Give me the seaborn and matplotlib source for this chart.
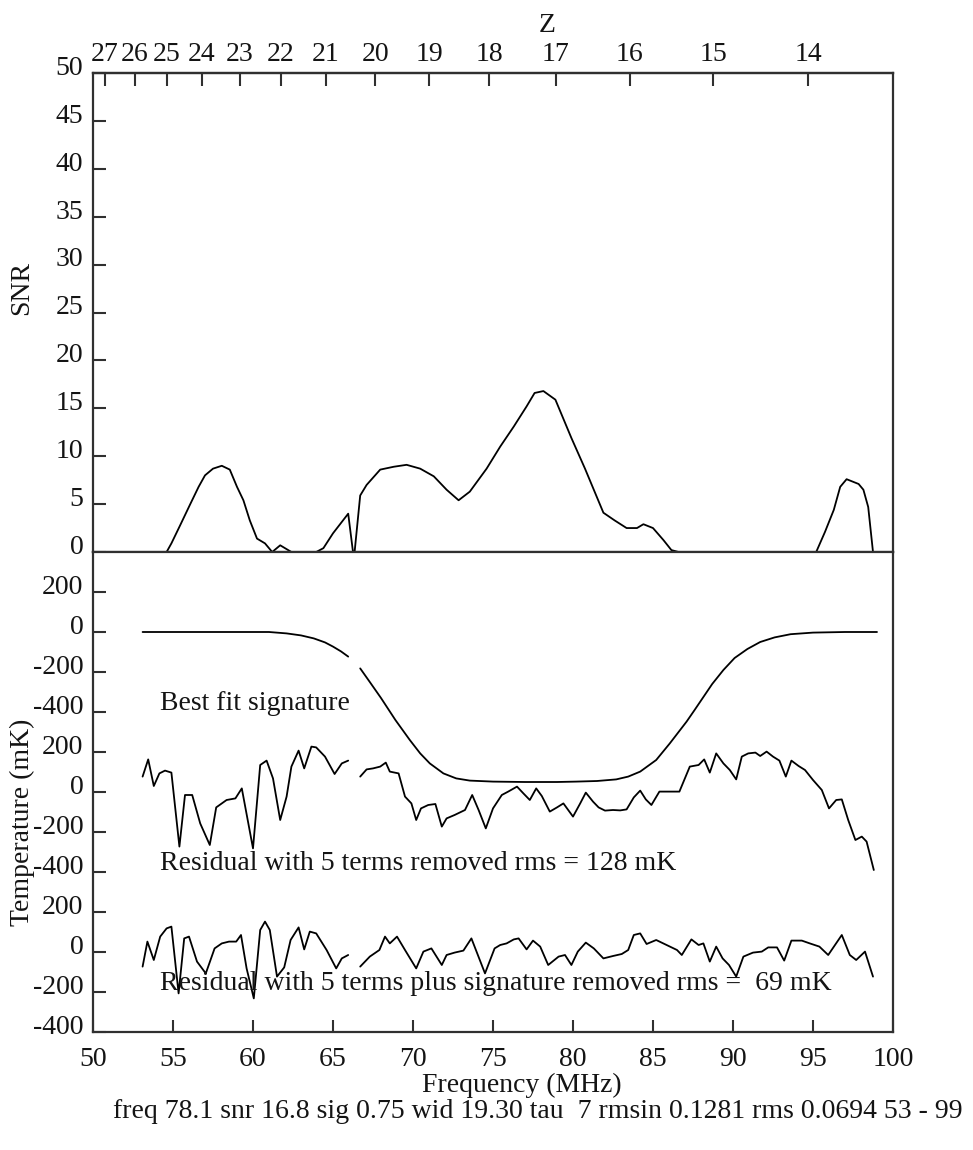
import numpy as np
import pandas as pd
import matplotlib
matplotlib.use("Agg")
import matplotlib.pyplot as plt
import matplotlib.transforms as mtransforms
import seaborn as sns

# ---------------------------------------------------------------- data
# Detection SNR of a flattened-Gaussian absorption vs. centre frequency
snr_freq = [53.1, 54.6, 54.9, 55.45, 56.05, 56.6, 57.0, 57.5, 58.05, 58.55, 59.0, 59.4,
            59.8, 60.25, 60.75, 61.2, 61.7, 62.4, 63.95, 64.4, 65.0, 65.95, 66.25, 66.35,
            66.7, 67.1, 67.95, 68.8, 69.6, 70.45, 71.3, 72.1, 72.85, 73.55, 74.6, 75.45,
            76.3, 77.1, 77.6, 78.15, 78.9, 79.9, 80.75, 81.4, 81.9, 82.6, 83.35, 84.0,
            84.4, 85.0, 85.65, 86.15, 86.6, 95.2, 95.75, 96.3, 96.7, 97.1, 97.85, 98.15,
            98.45, 98.75, 99.0]
snr_vals = [0, 0, 0.9, 2.8, 4.9, 6.8, 8.0, 8.7, 9.0, 8.6, 6.8, 5.4,
            3.3, 1.4, 0.9, 0, 0.7, 0, 0, 0.4, 1.95, 4.0, 0, 0,
            5.9, 7.0, 8.6, 8.9, 9.1, 8.7, 7.9, 6.5, 5.4, 6.3, 8.7, 11.0,
            13.1, 15.2, 16.6, 16.8, 15.9, 11.9, 8.7, 6.1, 4.1, 3.3, 2.5, 2.5,
            2.9, 2.5, 1.25, 0.2, 0, 0, 2.1, 4.4, 6.8, 7.6, 7.1, 6.5,
            4.7, 0, 0]

# Best-fit absorption profile (mK)
sig_freq = [53.1, 55.0, 57.0, 59.0, 61.0, 62.1, 63.0, 63.8, 64.5, 65.0, 65.5, 65.95,
            66.7, 67.3, 68.0, 68.9, 69.8, 70.45, 71.05, 71.9, 72.7, 73.55, 75.0, 77.0,
            79.0, 80.2, 81.5, 82.7, 83.45, 84.2, 85.2, 86.05, 87.1, 87.6, 88.7, 89.4,
            90.1, 90.9, 91.7, 92.6, 93.6, 95.0, 97.0, 99.0]
sig_mK = [0, 0, 0, 0, 0, -7, -17, -32, -52, -73, -97, -123,
          -182, -250, -330, -440, -540, -607, -657, -707, -732, -743, -748, -750,
          -750, -748, -745, -737, -723, -698, -640, -557, -448, -390, -260, -190,
          -130, -85, -50, -27, -11, -3, 0, 0]

# Residual after removing 5 foreground terms (mK)
res5_freq = [53.1, 53.45, 53.8, 54.15, 54.5, 54.9, 55.4, 55.75, 56.2, 56.7, 57.3, 57.7,
             58.35, 58.9, 59.3, 60.0, 60.45, 60.85, 61.25, 61.7, 62.1, 62.4, 62.85, 63.2,
             63.65, 63.95, 64.5, 65.1, 65.55, 65.95,
             66.7, 67.1, 67.5, 67.95, 68.3, 68.55, 69.1, 69.5, 69.9, 70.2, 70.5, 70.95,
             71.4, 71.8, 72.1, 72.6, 73.25, 73.7, 74.1, 74.55, 75.0, 75.55, 75.95, 76.5,
             76.9, 77.3, 77.7, 78.05, 78.55, 79.0, 79.4, 80.0, 80.45, 80.8, 81.25, 81.6,
             82.0, 82.5, 82.95, 83.35, 83.8, 84.2, 84.55, 84.9, 85.4, 85.95, 86.65, 87.3,
             87.85, 88.2, 88.55, 88.95, 89.4, 89.8, 90.2, 90.55, 90.95, 91.4, 91.7, 92.1,
             92.5, 92.9, 93.3, 93.65, 94.1, 94.5, 95.0, 95.55, 96.0, 96.45, 96.8, 97.2,
             97.65, 98.05, 98.35, 98.8]
res5_mK = [77, 163, 30, 93, 107, 97, -273, -15, -15, -157, -265, -77,
           -40, -32, 18, -282, 135, 157, 68, -140, -23, 127, 207, 118,
           227, 223, 177, 90, 143, 157,
           77, 113, 118, 127, 147, 102, 93, -23, -57, -140, -82, -65,
           -60, -173, -132, -115, -90, -15, -90, -182, -82, -15, 2, 27,
           -7, -40, 18, -20, -98, -77, -57, -123, -57, -3, -48, -77,
           -93, -90, -92, -87, -27, 7, -37, -65, 2, 2, 2, 127,
           135, 163, 97, 193, 143, 110, 63, 177, 193, 197, 180, 202,
           177, 157, 77, 157, 130, 110, 60, 10, -82, -40, -37, -140,
           -240, -223, -248, -390]

# Residual after removing 5 terms plus the fitted absorption (mK)
res5s_freq = [53.1, 53.4, 53.8, 54.2, 54.6, 54.9, 55.35, 55.7, 56.0, 56.5, 57.05, 57.6,
              58.05, 58.5, 58.95, 59.25, 59.6, 60.05, 60.45, 60.75, 61.05, 61.5, 61.95, 62.35,
              62.85, 63.2, 63.55, 63.95, 64.6, 65.2, 65.55, 65.95,
              66.7, 67.3, 67.9, 68.25, 68.55, 69.0, 69.5, 70.2, 70.65, 71.15, 71.8, 72.1,
              72.6, 73.15, 73.65, 74.5, 75.1, 75.45, 75.85, 76.3, 76.6, 77.1, 77.5, 77.95,
              78.45, 79.1, 79.5, 79.9, 80.3, 80.8, 81.3, 81.9, 82.5, 83.05, 83.45, 83.8,
              84.2, 84.6, 85.2, 85.85, 86.5, 86.8, 87.4, 87.85, 88.15, 88.55, 88.95, 89.35,
              89.75, 90.2, 90.65, 91.25, 91.8, 92.2, 92.75, 93.2, 93.65, 94.3, 94.8, 95.4,
              95.95, 96.8, 97.3, 97.7, 98.25, 98.75]
res5s_mK = [-73, 52, -40, 77, 118, 127, -207, 68, 77, -48, -107, 18,
            43, 52, 52, 85, -82, -232, 110, 152, 110, -123, -77, 60,
            123, 13, 102, 93, 10, -82, -32, -15,
            -73, -23, 10, 77, 43, 77, 10, -82, 2, 18, -65, -15,
            -3, 7, 68, -107, 18, 35, 43, 63, 68, 13, 57, 27,
            -65, -23, -15, -65, 2, 47, 18, -32, -20, -10, 10, 85,
            93, 40, 60, 35, 10, -15, 63, 35, 43, -48, 27, -32,
            -65, -123, -23, -3, 2, 23, 23, -43, 57, 57, 43, 27,
            -15, 85, -15, -40, 2, -123]

z_ticks = [27, 26, 25, 24, 23, 22, 21, 20, 19, 18, 17, 16, 15, 14]
snr_ticks = [0, 5, 10, 15, 20, 25, 30, 35, 40, 45, 50]
temp_tick_labels = ["200", "0", "-200", "-400"] * 3
freq_ticks = [50, 55, 60, 65, 70, 75, 80, 85, 90, 95, 100]

labels = {
    "sig": "Best fit signature",
    "res5": "Residual with 5 terms removed rms = 128 mK",
    "res5s": "Residual with 5 terms plus signature removed rms =  69 mK",
}
footer = "freq 78.1 snr 16.8 sig 0.75 wid 19.30 tau  7 rmsin 0.1281 rms 0.0694 53 - 99"

GAP_MHZ = 66.4          # channels missing between the two bands
F21 = 1420.40575        # rest frequency of the 21-cm line, MHz
STACK = 800             # vertical spacing (mK) between stacked traces

# ---------------------------------------------------------------- style
sns.set_style("ticks")
plt.rcParams["font.family"] = ["Liberation Serif", "DejaVu Serif"]
FS = 20
INK = "#141414"
FRAME = "#303030"

W, H = 973, 1150
fig = plt.figure(figsize=(W / 100, H / 100), dpi=100)


def box(x0, y0, x1, y1):
    return [x0 / W, 1 - y1 / H, (x1 - x0) / W, (y1 - y0) / H]


ax_snr = fig.add_axes(box(93, 73, 893, 552))
ax_t = fig.add_axes(box(93, 552, 893, 1032))

line_kw = dict(color="black", lw=1.3, estimator=None, sort=False)

# ---------------------------------------------------------------- SNR panel
snr_df = pd.DataFrame({"freq": snr_freq, "snr": snr_vals})
sns.lineplot(data=snr_df, x="freq", y="snr", ax=ax_snr, **line_kw)


# ---------------------------------------------------------------- stacked traces
def stacked(freq, vals, offset):
    df = pd.DataFrame({"freq": freq, "mK": vals})
    df["y"] = df["mK"] + offset
    df["band"] = np.where(df["freq"] < GAP_MHZ, 0, 1)
    return df


for (fq, vals), k in zip([(sig_freq, sig_mK), (res5_freq, res5_mK), (res5s_freq, res5s_mK)], range(3)):
    sns.lineplot(data=stacked(fq, vals, -k * STACK), x="freq", y="y", units="band",
                 ax=ax_t, **line_kw)

text_kw = dict(fontsize=FS, color=INK, ha="left", va="center")
ax_t.text(54.2, -355, labels["sig"], **text_kw)
ax_t.text(54.2, -1155, labels["res5"], **text_kw)
ax_t.text(54.2, -1755, labels["res5s"], **text_kw)

# ---------------------------------------------------------------- axes
for ax in (ax_snr, ax_t):
    ax.set_xlim(50, 100)
    ax.set_xlabel("")
    ax.set_ylabel("")
    for s in ax.spines.values():
        s.set_linewidth(1.6)
        s.set_color(FRAME)
    ax.tick_params(direction="in", length=9, width=1.5, color=FRAME,
                   labelcolor=INK, labelsize=FS)
    ax.tick_params(axis="y", pad=7)

ax_snr.set_ylim(0, 50)
ax_snr.set_yticks(snr_ticks)
ax_snr.set_yticklabels([str(v) for v in snr_ticks])
ax_snr.tick_params(axis="x", bottom=False, labelbottom=False)

temp_ticks = [200 - 200 * i for i in range(12)]
ax_t.set_ylim(-2000, 400)
ax_t.set_yticks(temp_ticks)
ax_t.set_yticklabels(temp_tick_labels)
ax_t.set_xticks(freq_ticks)
ax_t.set_xticklabels([str(v) for v in freq_ticks])
ax_t.tick_params(axis="x", pad=11)

sec = ax_snr.secondary_xaxis(
    "top",
    functions=(lambda f: F21 / np.asarray(f, float) - 1, lambda z: F21 / (1 + np.asarray(z, float))),
)
sec.set_xticks(z_ticks)
sec.set_xticklabels([str(z) for z in z_ticks])
sec.tick_params(direction="in", length=9, width=1.5, color=FRAME,
                labelcolor=INK, labelsize=FS, pad=4)
sec.spines["top"].set_linewidth(1.6)
sec.spines["top"].set_color(FRAME)

# y tick labels sit a little above their tick marks
lift = mtransforms.ScaledTranslation(0, 5.5 / 72, fig.dpi_scale_trans)
for ax in (ax_snr, ax_t):
    for lab in ax.get_yticklabels():
        lab.set_transform(lab.get_transform() + lift)


def ftext(x, y, s, **kw):
    fig.text(x / W, 1 - y / H, s, fontsize=FS, color=INK, **kw)


ftext(547, 25, "Z", ha="center", va="center")
ftext(22, 288, "SNR", ha="center", va="center", rotation=90)
ftext(22, 822, "Temperature (mK)", ha="center", va="center", rotation=90)
ftext(522, 1085, "Frequency (MHz)", ha="center", va="center")
ftext(113, 1112, footer, ha="left", va="center")

fig.savefig("out.png", dpi=100)
